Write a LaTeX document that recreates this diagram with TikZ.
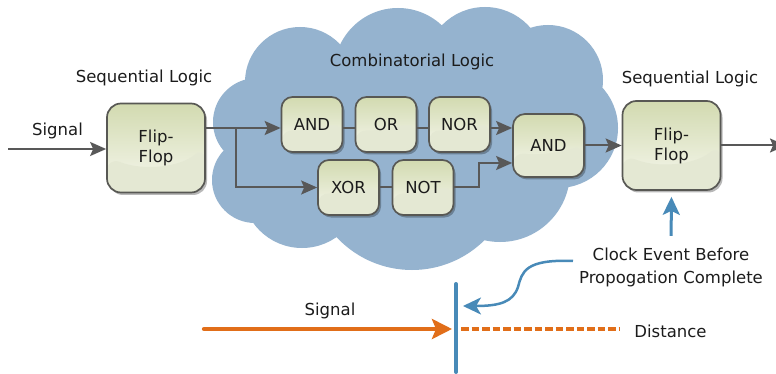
\documentclass[tikz,border=0pt]{standalone}
\usepackage{fontspec}
\setmainfont{DejaVu Sans}
\usetikzlibrary{arrows.meta,shadows,calc}

\definecolor{cloudblue}{RGB}{149,179,207}
\definecolor{boxtop}{RGB}{210,218,176}
\definecolor{boxmid}{RGB}{247,248,240}
\definecolor{boxlow}{RGB}{228,232,211}
\definecolor{boxedge}{RGB}{88,88,84}
\definecolor{wirecol}{RGB}{88,88,88}
\definecolor{clockblue}{RGB}{72,138,184}
\definecolor{sigorange}{RGB}{225,110,25}
\definecolor{ink}{RGB}{28,28,28}

\tikzset{
  label text/.style={font=\fontsize{16.5}{20}\selectfont, text=ink, inner sep=0pt, anchor=base},
  gate/.style={draw=boxedge, line width=1.7pt, rounded corners=11pt,
    minimum width=61pt, minimum height=55pt, inner sep=0pt,
    top color=boxtop, bottom color=boxmid,
    drop shadow={shadow xshift=2pt, shadow yshift=-2.5pt, opacity=0.28, fill=black},
    font=\fontsize{16.5}{20}\selectfont, text=ink, align=center,
    path picture={
      \fill[boxlow]
        ($(path picture bounding box.south west)!0.40!(path picture bounding box.north west)$)
        .. controls ($(path picture bounding box.south west)!0.38!(path picture bounding box.south east)+(0,21pt)$)
        and ($(path picture bounding box.south west)!0.75!(path picture bounding box.south east)+(0,26pt)$)
        .. ($(path picture bounding box.south east)!0.52!(path picture bounding box.north east)$)
        -- (path picture bounding box.south east)
        -- (path picture bounding box.south west) -- cycle;
    }},
  flipflop/.style={gate, minimum width=98pt, minimum height=89pt, rounded corners=14pt},
  wire/.style={draw=wirecol, line width=2pt},
  flow/.style={wire, -{Stealth[length=16pt,width=14pt,inset=3pt]}},
  clockline/.style={draw=clockblue, line width=3pt, -{Stealth[length=18pt,width=17pt,inset=4pt]}},
  bendline/.style={draw=clockblue, line width=2.5pt, -{Stealth[length=18pt,width=17pt,inset=5pt]}},
  barline/.style={draw=clockblue, line width=4pt, line cap=round},
  sigline/.style={draw=sigorange, line width=4.3pt, line cap=round, -{Stealth[length=20pt,width=20pt,inset=4pt]}},
  distline/.style={draw=sigorange, line width=4.3pt, dash pattern=on 7.5pt off 3pt},
}

\begin{document}
\begin{tikzpicture}[x=1pt, y=-1pt]
  \path[use as bounding box, fill=white] (0,0) rectangle (776,374);
  \clip (0,0) rectangle (776,374);

  % cloud of combinatorial logic: union of overlapping discs
  \fill[cloudblue]
    (257,122) circle[radius=44]
    (255,180) circle[radius=43]
    (302,188) circle[radius=60]
    (412,167) circle[radius=103]
    (500,172) circle[radius=70]
    (558,128) circle[radius=60]
    (548,80) circle[radius=55]
    (485,67) circle[radius=60]
    (398,72) circle[radius=64]
    (300,82) circle[radius=55];
  \fill[cloudblue] (257,122) -- (255,180) -- (302,188) -- (412,167) -- (500,172)
    -- (558,128) -- (548,80) -- (485,67) -- (398,72) -- (300,82) -- cycle;

  % headings
  \node[label text] (seqL) at (144,83) {Sequential Logic};
  \node[label text] (comb) at (412,66.7) {Combinatorial Logic};
  \node[label text] (seqR) at (690,84) {Sequential Logic};
  \node[label text] (sigT) at (57.5,136) {Signal};

  % blocks
  \node[flipflop] (ffL) at (156,148) {Flip-\\Flop};
  \node[gate] (and1) at (312,124.5) {AND};
  \node[gate] (or)   at (386,124.5) {OR};
  \node[gate] (nor)  at (459.5,124.5) {NOR};
  \node[gate] (xor)  at (348.5,187.5) {XOR};
  \node[gate] (not)  at (423,187.5) {NOT};
  \node[gate, minimum width=71pt, minimum height=63pt, rounded corners=12pt] (and2) at (548.5,145.5) {AND};
  \node[flipflop] (ffR) at (671.5,145.5) {Flip-\\Flop};

  % wiring
  \coordinate (sigin) at (8,149);
  \coordinate (split) at (236,128);
  \coordinate (join)  at (479,163);
  \coordinate (out)   at (786,145.5);

  \draw[flow] (sigin) -- (sigin -| ffL.west);
  \draw[wire] (ffL.east |- split) -- (split);
  \draw[flow] (split) -- (and1.west |- split);
  \draw[flow] (split) |- (xor.west);
  \draw[wire] (and1.east |- split) -- (or.west |- split);
  \draw[wire] (or.east |- split) -- (nor.west |- split);
  \draw[flow] (nor.east |- split) -- (and2.west |- split);
  \draw[wire] (xor.east) -- (not.west);
  \draw[flow] (not.east) -| (join) -- (and2.west |- join);
  \draw[flow] (and2.east) -- (ffR.west);
  \draw[flow] (ffR.east) -- (out);

  % clock event
  \node[label text] (clk1) at (671,260.7) {Clock Event Before};
  \node[label text] (clk2) at (671,283) {Propogation Complete};
  \draw[clockline, shorten <=12pt, shorten >=6pt] (clk1.north) -- (ffR.south);

  % timeline
  \coordinate (bartop) at (456,284);
  \coordinate (barbot) at (456,372);
  \coordinate (bendstart) at (573,261);
  \coordinate (hit) at (463,306);
  \draw[barline] (bartop) -- (barbot);
  \draw[bendline] (bendstart) .. controls (525,259) and (522,272) .. (518,287)
    .. controls (513,302) and (500,306) .. (hit);

  \coordinate (sigstart) at (204,329);
  \coordinate (sigend) at (452,329);
  \coordinate (diststart) at (461,329);
  \coordinate (distend) at (620,329);
  \draw[sigline] (sigstart) -- (sigend);
  \draw[distline] (diststart) -- (distend);

  \node[label text] (sigB) at (330,315.7) {Signal};
  \node[label text] (dist) at (670.5,337) {Distance};
\end{tikzpicture}
\end{document}
